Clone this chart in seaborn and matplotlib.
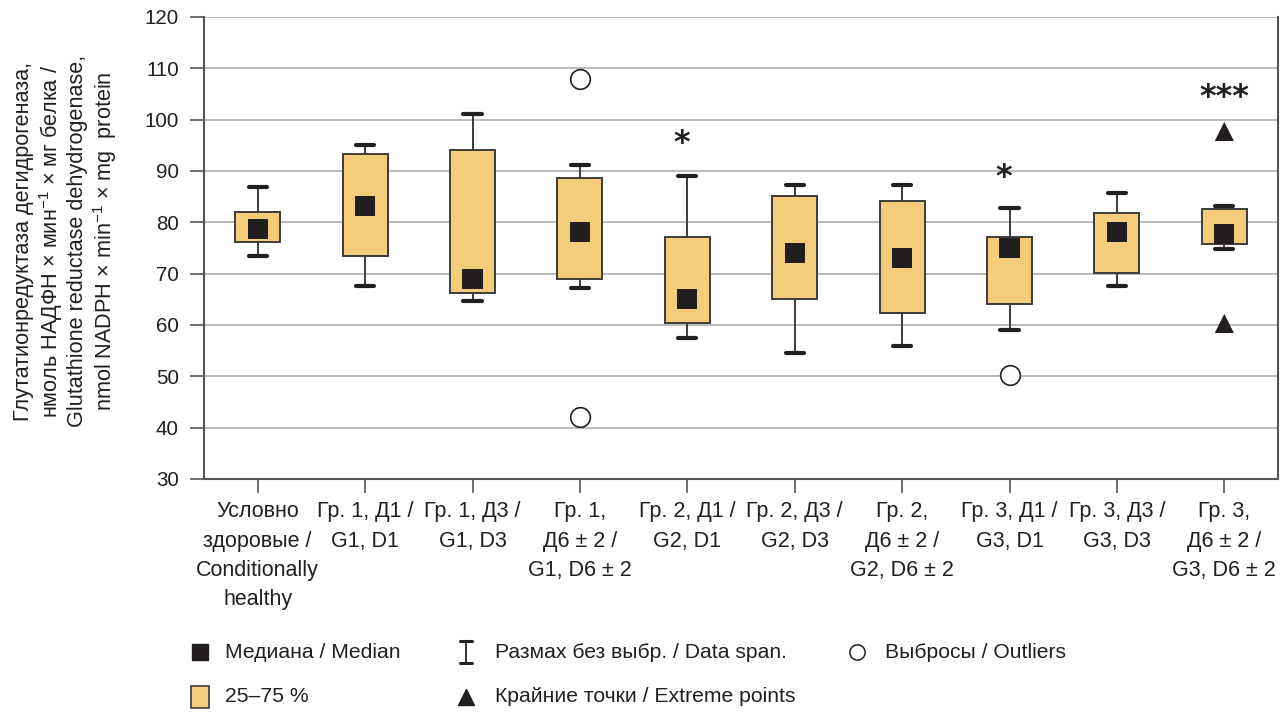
import matplotlib
matplotlib.use("Agg")
import matplotlib.pyplot as plt
import seaborn as sns
import numpy as np
import pandas as pd

# values
groups = ["Условно\nздоровые /\nConditionally\nhealthy", "Гр. 1, Д1 /\nG1, D1",
          "Гр. 1, Д3 /\nG1, D3", "Гр. 1,\nД6 ± 2 /\nG1, D6 ± 2", "Гр. 2, Д1 /\nG2, D1",
          "Гр. 2, Д3 /\nG2, D3", "Гр. 2,\nД6 ± 2 /\nG2, D6 ± 2", "Гр. 3, Д1 /\nG3, D1",
          "Гр. 3, Д3 /\nG3, D3", "Гр. 3,\nД6 ± 2 /\nG3, D6 ± 2"]
whis_lo = [73.4, 67.5, 64.6, 67.3, 57.5, 54.5, 56.0, 59.0, 67.5, 74.9]
q1 = [76.2, 73.4, 66.3, 69.0, 60.3, 65.0, 62.4, 64.0, 70.1, 75.8]
median = [78.7, 83.2, 69.0, 78.1, 65.1, 74.0, 73.0, 75.0, 78.1, 77.7]
q3 = [82.1, 93.3, 94.0, 88.6, 77.2, 85.1, 84.1, 77.2, 81.9, 82.5]
whis_hi = [86.8, 95.0, 101.2, 91.1, 89.0, 87.2, 87.2, 82.7, 85.7, 83.2]
outlier_group = [3, 3, 7]
outlier_value = [107.9, 42.1, 50.3]
extreme_group = [9, 9]
extreme_value = [97.7, 60.3]
star_group = [3.95, 6.95, 9]
star_text = ["*", "*", "***"]
star_value = [95.3, 88.8, 104.4]

box_fill = "#f4cc7a"
dark = "#231f20"
edge = "#3c3c3c"

sns.set_theme(style="whitegrid")
plt.rcParams["font.family"] = ["Liberation Sans", "DejaVu Sans"]
plt.rcParams["mathtext.default"] = "regular"
plt.rcParams["text.color"] = dark

fig = plt.figure(figsize=(12.88, 7.13), dpi=100)
ax = fig.add_axes([204 / 1288, 1 - 479 / 713, (1278 - 204) / 1288, (479 - 17) / 713])

stats = [dict(whislo=lo, q1=a, med=m, q3=b, whishi=hi, fliers=[])
         for lo, a, m, b, hi in zip(whis_lo, q1, median, q3, whis_hi)]
pos = np.arange(len(groups))
ax.bxp(stats, positions=pos, widths=0.42, capwidths=0.17, patch_artist=True,
       showfliers=False,
       boxprops=dict(facecolor=box_fill, edgecolor=edge, linewidth=1.4),
       whiskerprops=dict(color=edge, linewidth=1.4),
       capprops=dict(color=dark, linewidth=3),
       medianprops=dict(linewidth=0), zorder=3)

med_df = pd.DataFrame({"x": pos, "y": median})
sns.scatterplot(data=med_df, x="x", y="y", marker="s", s=215, color=dark,
                edgecolor="none", linewidth=0, ax=ax, zorder=5)
out_df = pd.DataFrame({"x": outlier_group, "y": outlier_value})
sns.scatterplot(data=out_df, x="x", y="y", marker="o", s=200, facecolor="white",
                edgecolor=dark, linewidth=1.2, ax=ax, zorder=5)
ext_df = pd.DataFrame({"x": extreme_group, "y": extreme_value})
sns.scatterplot(data=ext_df, x="x", y="y", marker="^", s=190, color=dark,
                edgecolor="none", linewidth=0, ax=ax, zorder=5)
for g, t, v in zip(star_group, star_text, star_value):
    ax.text(g, v, t, ha="center", va="center", fontsize=23, color=dark,
            family="DejaVu Sans", fontweight="bold")

ax.set_xlim(-0.5, len(groups) - 0.5)
ax.set_ylim(30, 120)
ax.set_yticks(np.arange(30, 121, 10))
ax.set_xticks(pos)
ax.set_xticklabels(groups, fontsize=15.5, linespacing=1.52, color=dark)
ax.tick_params(axis="y", labelsize=14.8, length=10, width=1.2, color="#555555",
               pad=8, labelcolor=dark, left=True)
ax.tick_params(axis="x", length=10, width=1.2, color="#555555", pad=6, bottom=True)
ax.set_xlabel("")
ax.set_ylabel("")
ax.grid(axis="x", visible=False)
ax.grid(axis="y", color="#b5b5b5", linewidth=1.3)
for side in ["left", "right", "bottom"]:
    ax.spines[side].set_color("#555555")
    ax.spines[side].set_linewidth(1.5)
    ax.spines[side].set_visible(True)
ax.spines["top"].set_visible(False)

fig.text(66 / 1288, 1 - 241 / 713,
         "Глутатионредуктаза дегидрогеназа,\n"
         "нмоль НАДФН × мин$^{-1}$ × мг белка /\n"
         "Glutathione reductase dehydrogenase,\n"
         "nmol NADPH × min$^{-1}$ × mg  protein",
         rotation=90, ha="center", va="center", fontsize=15.6,
         linespacing=1.15, color=dark)

# legend drawn in pixel coordinates
lg = fig.add_axes([0, 0, 1, 1])
lg.set_xlim(0, 1288)
lg.set_ylim(713, 0)
lg.axis("off")
lg.plot([200], [652], marker="s", markersize=11.5, color=dark, linestyle="none")
lg.add_patch(plt.Rectangle((191, 686), 18, 22, facecolor=box_fill, edgecolor=edge,
                           linewidth=1.2))
lg.plot([466, 466], [641, 663], color=dark, linewidth=1.3)
lg.plot([460, 472], [641, 641], color=dark, linewidth=2.2)
lg.plot([460, 472], [663, 663], color=dark, linewidth=2.2)
lg.plot([466], [697], marker="^", markersize=11, color=dark, linestyle="none")
lg.plot([857], [652], marker="o", markersize=11, markerfacecolor="white",
        markeredgecolor=dark, markeredgewidth=1.1, linestyle="none")
leg_text = [(225, 652, "Медиана / Median"), (225, 697, "25–75 %"),
            (495, 652, "Размах без выбр. / Data span."),
            (495, 697, "Крайние точки / Extreme points"),
            (885, 652, "Выбросы / Outliers")]
for x, y, t in leg_text:
    lg.text(x, y, t, ha="left", va="center", fontsize=15.2, color=dark)

fig.savefig("out.png", dpi=100)
